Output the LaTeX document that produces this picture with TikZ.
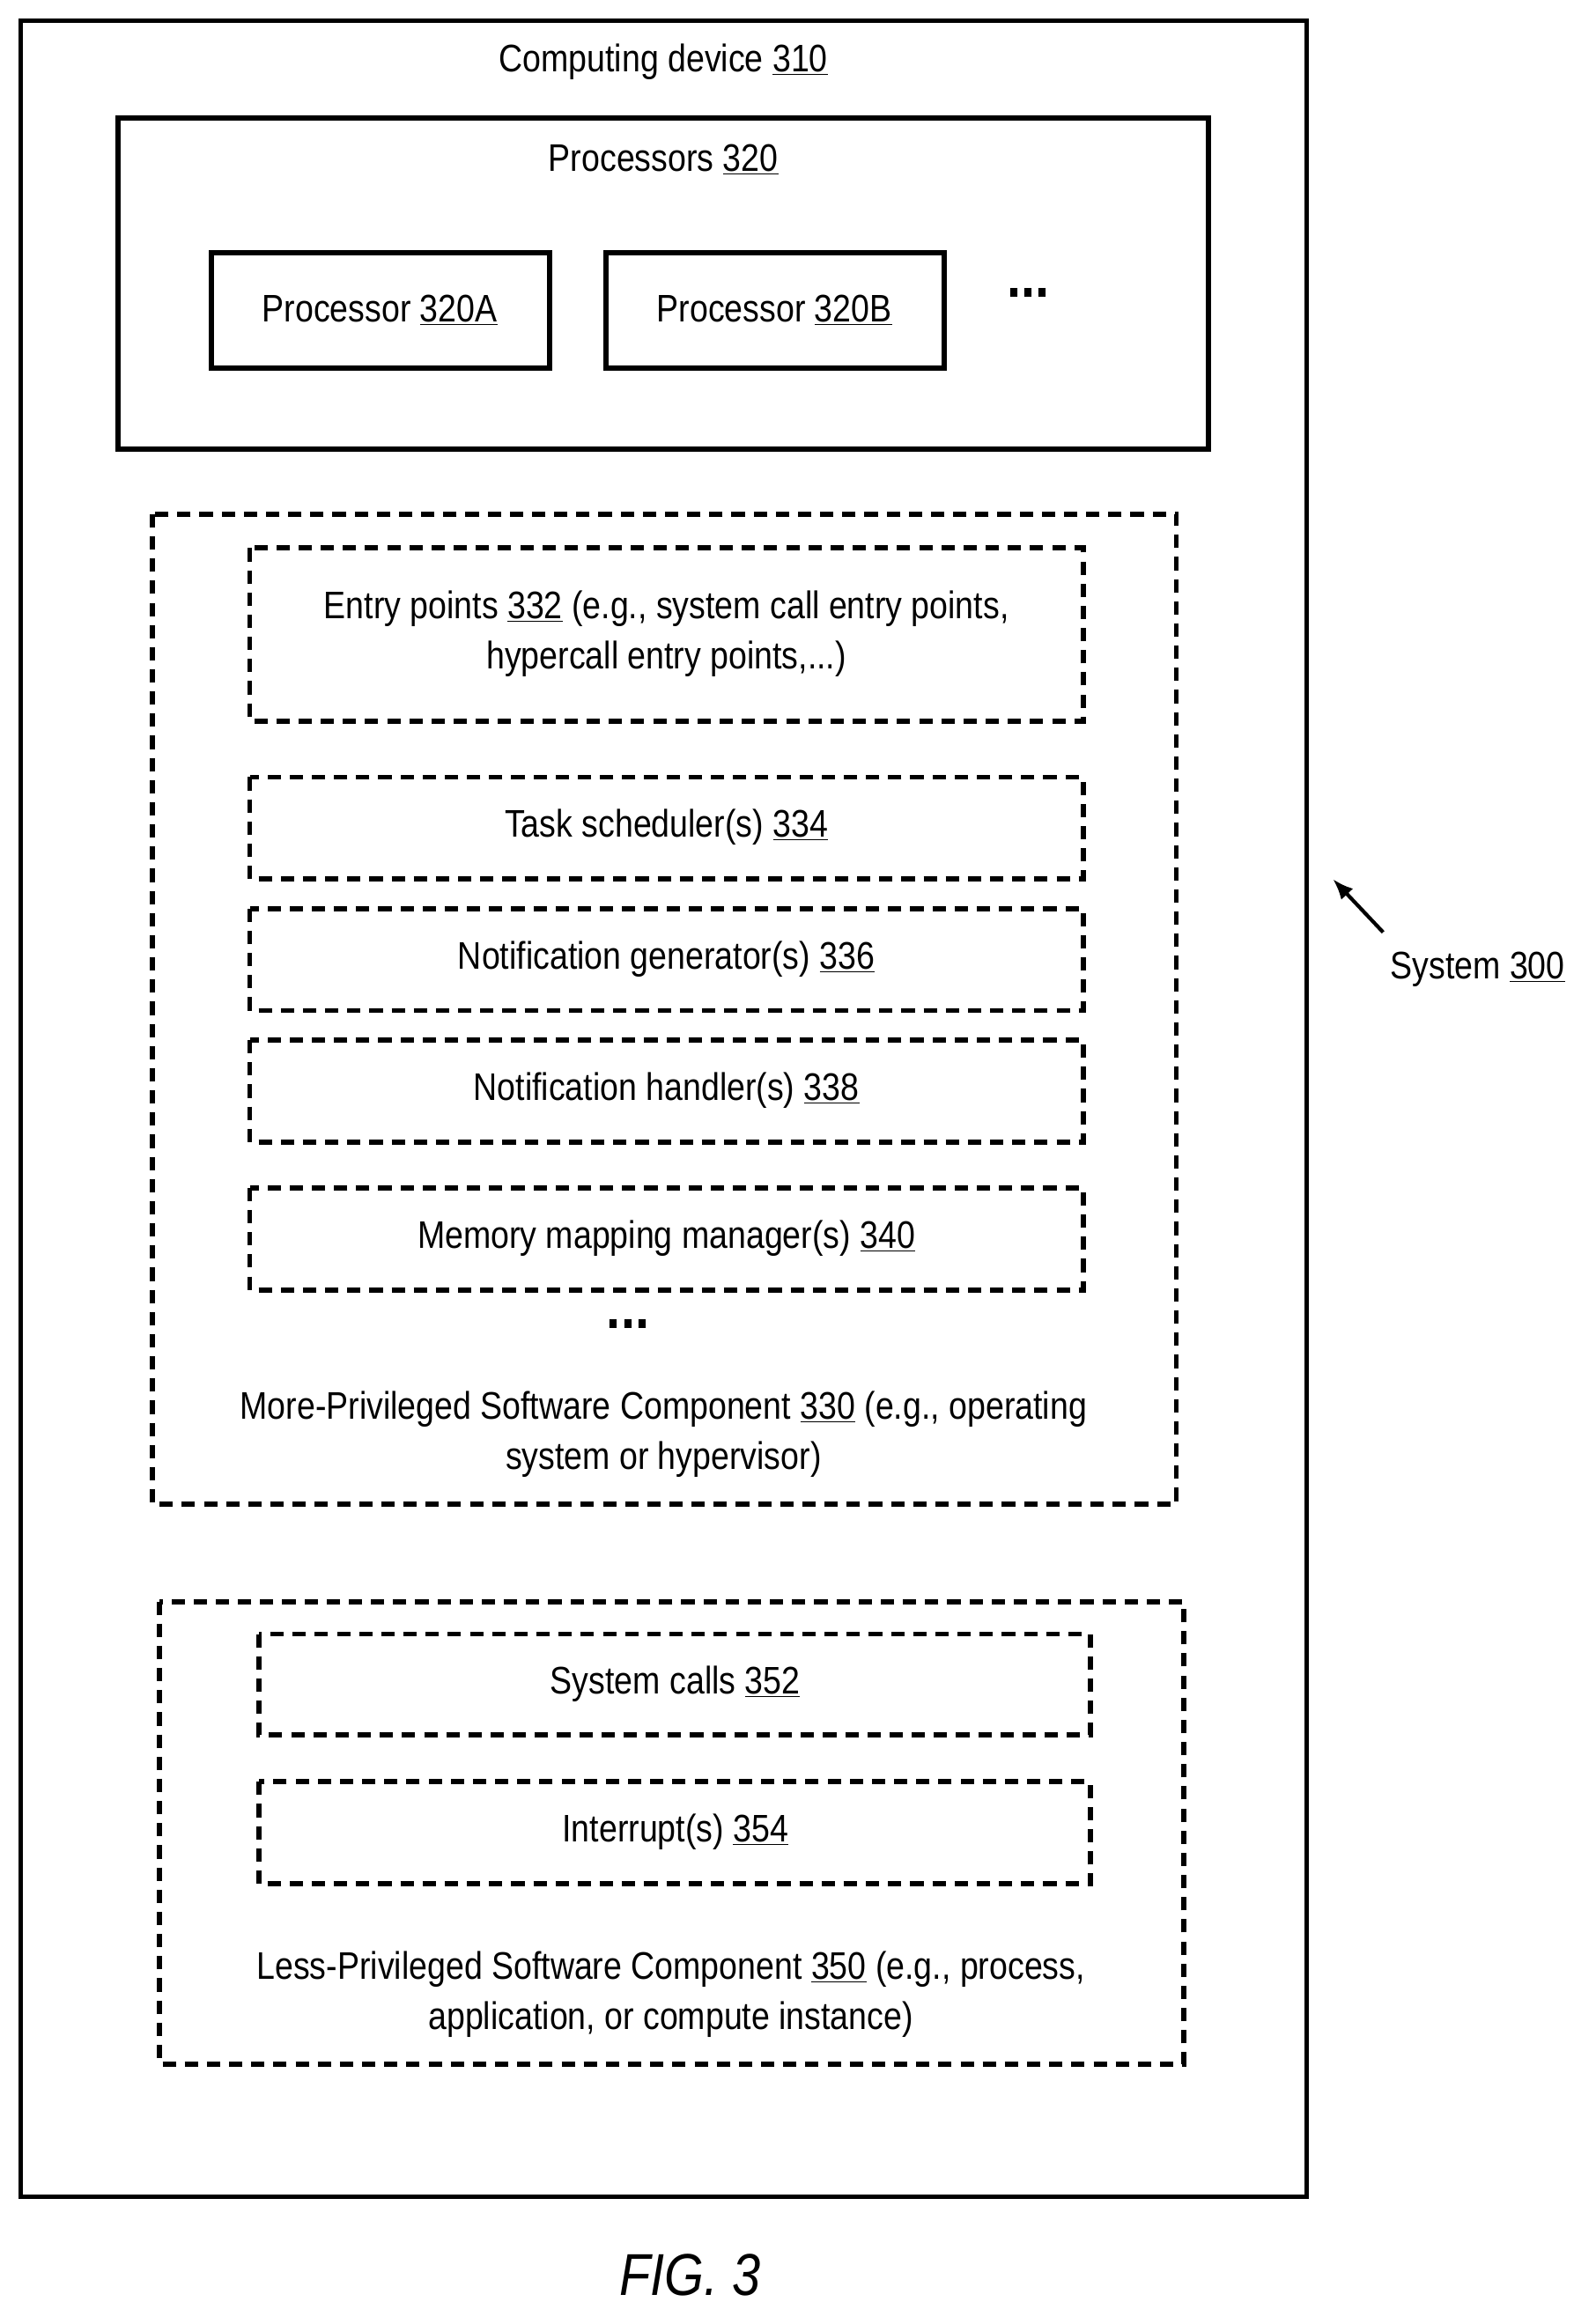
\documentclass[tikz,border=0pt]{standalone}
\usetikzlibrary{arrows.meta}
\usepackage{fontspec}
\setmainfont{Liberation Sans}[FakeStretch=0.86]
\begin{document}
\begin{tikzpicture}[x=1pt,y=-1pt,
  solid box/.style={draw,line width=3.5pt},
  dash box/.style={draw,line width=3.5pt,dash pattern=on 9pt off 6pt},
  lbl/.style={font=\fontsize{26}{34}\selectfont,align=center,inner sep=0pt}]
\useasboundingbox (0,0) rectangle (1080,1573);
\draw[line width=3pt] (14,14) rectangle (884,1487);
\node[lbl] (t310) at (449,42) {Computing device \underline{310}};
\draw[solid box] (80,80) rectangle (818,304);
\node[lbl] (t320) at (449,108) {Processors \underline{320}};
\draw[solid box] (143,171) rectangle (372,249);
\node[lbl] (a) at (257,210) {Processor \underline{320A}};
\draw[solid box] (410,171) rectangle (639,249);
\node[lbl] (b) at (524,210) {Processor \underline{320B}};
\node[lbl,font=\fontsize{40}{40}\selectfont\bfseries] (d1) at (696,198) {...};
\draw[dash box] (103,348) rectangle (796,1018);
\draw[dash box] (169,371) rectangle (733,488);
\node[lbl] (e) at (451,429) {Entry points \underline{332} (e.g., system call entry points,\\hypercall entry points,...)};
\draw[dash box] (169,526) rectangle (733,595);
\node[lbl] (f) at (451,560) {Task scheduler(s) \underline{334}};
\draw[dash box] (169,615) rectangle (733,684);
\node[lbl] (g) at (451,649) {Notification generator(s) \underline{336}};
\draw[dash box] (169,704) rectangle (733,773);
\node[lbl] (h) at (451,738) {Notification handler(s) \underline{338}};
\draw[dash box] (169,804) rectangle (733,873);
\node[lbl] (i) at (451,838) {Memory mapping manager(s) \underline{340}};
\node[lbl,font=\fontsize{40}{40}\selectfont\bfseries] (d2) at (425,896) {...};
\node[lbl] (j) at (449,971) {More-Privileged Software Component \underline{330} (e.g., operating\\system or hypervisor)};
\draw[dash box] (108,1084) rectangle (801,1397);
\draw[dash box] (175,1106) rectangle (738,1174);
\node[lbl] (k) at (457,1140) {System calls \underline{352}};
\draw[dash box] (175,1206) rectangle (738,1275);
\node[lbl] (l) at (457,1240) {Interrupt(s) \underline{354}};
\node[lbl] (m) at (454,1350) {Less-Privileged Software Component \underline{350} (e.g., process,\\application, or compute instance)};
\node[lbl] (s) at (1000,656) {System \underline{300}};
\coordinate (sa) at (936,631);
\coordinate (sb) at (902,595);
\draw[line width=2.5pt,-{Latex[length=14pt,width=11pt]}] (sa) -- (sb);
\node[lbl,font=\fontsize{40}{40}\selectfont\itshape] (fig) at (467,1540) {FIG. 3};
\end{tikzpicture}
\end{document}
